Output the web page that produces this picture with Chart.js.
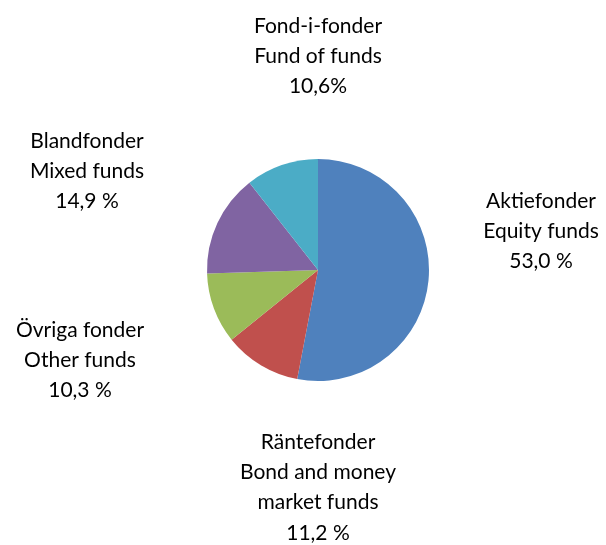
<!DOCTYPE html>
<html>
<head>
<meta charset="utf-8">
<script src="https://cdn.jsdelivr.net/npm/chart.js@4/dist/chart.umd.min.js"></script>
<style>
html,body{margin:0;padding:0;background:#fff;}
#wrap{width:606px;height:545px;position:relative;}
</style>
</head>
<body>
<div id="wrap"><canvas id="c" width="606" height="545"></canvas></div>
<script>
const categoriesSv = ["Aktiefonder", "Räntefonder", "Övriga fonder", "Blandfonder", "Fond-i-fonder"];
const categoriesEn = ["Equity funds", "Bond and money\nmarket funds", "Other funds", "Mixed funds", "Fund of funds"];
const values = [53.0, 11.2, 10.3, 14.9, 10.6];
const valueLabels = ["53,0 %", "11,2 %", "10,3 %", "14,9 %", "10,6%"];
const colors = ["#4F81BD", "#C0504D", "#9BBB59", "#8064A2", "#4BACC6"];

// label anchor offsets relative to pie centre (dx, dy of first line), in px
const labelOffsets = [[223, -69], [0, 172], [-238, 60], [-231, -129], [0, -244]];

const labelPlugin = {
  id: 'outerLabels',
  afterDraw(chart) {
    const ctx = chart.ctx;
    const arc = chart.getDatasetMeta(0).data[0];
    const cx = arc.x, cy = arc.y;
    ctx.save();
    ctx.fillStyle = '#000';
    ctx.font = '21px Lato, "Open Sans", sans-serif';
    ctx.textAlign = 'center';
    ctx.textBaseline = 'middle';
    const lh = 30.3;
    categoriesSv.forEach((name, i) => {
      const lines = [name].concat(categoriesEn[i].split('\n')).concat([valueLabels[i]]);
      const [dx, dy] = labelOffsets[i];
      lines.forEach((t, j) => ctx.fillText(t, cx + dx, cy + dy + j * lh));
    });
    ctx.restore();
  }
};

new Chart(document.getElementById('c'), {
  type: 'pie',
  data: {
    labels: categoriesSv,
    datasets: [{
      data: values,
      backgroundColor: colors,
      borderWidth: 0
    }]
  },
  options: {
    responsive: false,
    animation: false,
    layout: { padding: { left: 207, right: 177, top: 159, bottom: 164 } },
    plugins: { legend: { display: false }, tooltip: { enabled: false } }
  },
  plugins: [labelPlugin]
});
</script>
</body>
</html>
